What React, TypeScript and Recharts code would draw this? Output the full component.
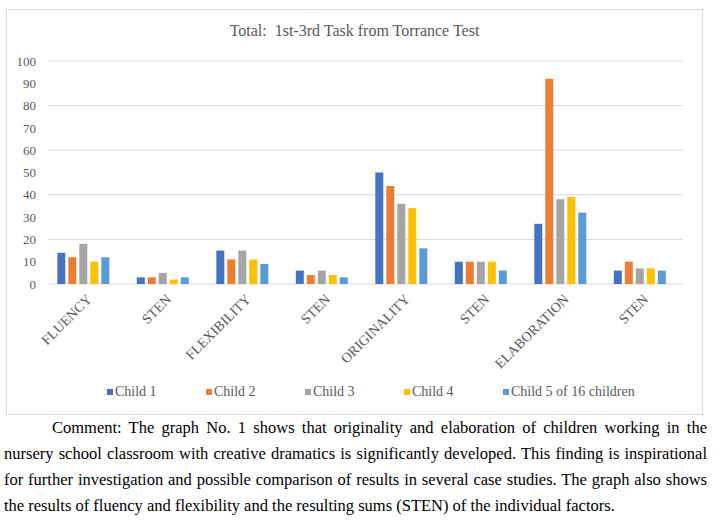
import { BarChart, Bar, XAxis, YAxis, CartesianGrid, Legend } from "recharts";

const categories = ["FLUENCY", "STEN", "FLEXIBILITY", "STEN", "ORIGINALITY", "STEN", "ELABORATION", "STEN"];
const child1 = [14, 3, 15, 6, 50, 10, 27, 6];
const child2 = [12, 3, 11, 4, 44, 10, 92, 10];
const child3 = [18, 5, 15, 6, 36, 10, 38, 7];
const child4 = [10, 2, 11, 4, 34, 10, 39, 7];
const child5 = [12, 3, 9, 3, 16, 6, 32, 6];
const yTicks = [0, 10, 20, 30, 40, 50, 60, 70, 80, 90, 100];

const series = [
  { key: "c1", name: "Child 1", color: "#4472C4", values: child1 },
  { key: "c2", name: "Child 2", color: "#ED7D31", values: child2 },
  { key: "c3", name: "Child 3", color: "#A5A5A5", values: child3 },
  { key: "c4", name: "Child 4", color: "#FFC000", values: child4 },
  { key: "c5", name: "Child 5 of 16 children", color: "#5B9BD5", values: child5 },
];

const data = categories.map((c, i) => {
  const row: any = { id: i, cat: c };
  series.forEach((s) => (row[s.key] = s.values[i]));
  return row;
});

const serif = "Liberation Serif, DejaVu Serif, serif";
const gray = "#595959";

function XTick(props: any) {
  const { x, y, payload } = props;
  const tx = x + 10;
  const ty = y + 8;
  return (
    <text x={tx} y={ty} textAnchor="end" transform={`rotate(-45 ${tx} ${ty})`} style={{ fontFamily: serif, fontSize: 14 }} fill={gray}>
      {categories[payload.value]}
    </text>
  );
}

// excel draws its gridlines a few px right of the category band
function GridLine(p: any) {
  return <line key={p.key} x1={p.x1 + 5} y1={p.y1} x2={p.x2 + 4} y2={p.y2} stroke="#d9d9d9" strokeWidth={1} />;
}

function LegendBox() {
  return (
    <div style={{ display: "flex", fontFamily: serif, fontSize: 14, color: gray }}>
      {series.map((s) => (
        <div key={s.key} style={{ width: 99, flexShrink: 0, display: "flex", alignItems: "center", whiteSpace: "nowrap" }}>
          <span style={{ display: "inline-block", flexShrink: 0, width: 6, height: 6, background: s.color, marginRight: 2 }} />
          {s.name}
        </div>
      ))}
    </div>
  );
}

export default function App() {
  return (
    <div style={{ position: "absolute", left: 0, top: 0, width: 719, height: 525, background: "#fff" }}>
      <div style={{ position: "absolute", left: 6, top: 9, width: 695, height: 404, border: "1px solid #d9d9d9" }}>
        <div style={{ position: "absolute", left: 0, width: 695, top: 12, textAlign: "center", fontFamily: serif, fontSize: 16, color: gray, whiteSpace: "pre" }}>
          {"Total:  1st-3rd Task from Torrance Test"}
        </div>
        <BarChart width={695} height={404} data={data} margin={{ top: 51, right: 23, left: 0, bottom: 0 }} barCategoryGap="18%" barGap={3}>
          <CartesianGrid vertical={false} horizontal={(p: any) => <GridLine {...p} />} />
          <XAxis dataKey="id" height={130} tickLine={false} axisLine={false} tick={<XTick />} interval={0} />
          <YAxis width={36} domain={[0, 100]} ticks={yTicks} axisLine={false} tickLine={false} tickMargin={1}
            tick={{ fontSize: 13, fontFamily: serif, fill: gray, style: { fontFamily: serif } }} />
          <Legend verticalAlign="middle" wrapperStyle={{ top: 374, left: 100, width: 580 }} content={<LegendBox />} />
          {series.map((s) => (
            <Bar key={s.key} dataKey={s.key} name={s.name} fill={s.color} isAnimationActive={false} />
          ))}
        </BarChart>
      </div>
      <p style={{ position: "absolute", left: 4, top: 415, width: 703, margin: 0, fontFamily: serif, fontSize: 16.5, lineHeight: "26px", textAlign: "justify", textIndent: 48, color: "#000" }}>
        Comment: The graph No. 1 shows that originality and elaboration of children working in the nursery school classroom with creative dramatics is significantly developed. This finding is inspirational for further investigation and possible comparison of results in several case studies. The graph also shows the results of fluency and flexibility and the resulting sums (STEN) of the individual factors.
      </p>
    </div>
  );
}
